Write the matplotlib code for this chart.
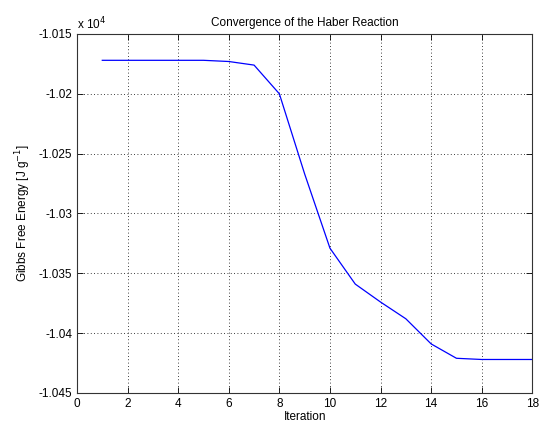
import matplotlib.pyplot as plt
from matplotlib.ticker import FuncFormatter

plt.rcParams['font.family'] = ['Liberation Sans', 'DejaVu Sans']

iteration = list(range(1, 19))
gibbs = [-10172, -10172, -10172, -10172, -10172, -10173, -10176, -10200, -10267,
         -10329, -10359, -10374, -10388, -10409, -10421, -10422, -10422, -10422]

fig = plt.figure(figsize=(5.41, 4.28), dpi=100)
ax = fig.add_axes([0.1423, 0.0818, 0.8417, 0.8388])

ax.plot(iteration, gibbs, color='#0000ff', linewidth=0.9)

ax.set_xlim(0, 18)
ax.set_ylim(-10450, -10150)
ax.set_xticks(range(0, 19, 2))
ax.set_yticks([-10450, -10400, -10350, -10300, -10250, -10200, -10150])
ax.yaxis.set_major_formatter(FuncFormatter(lambda v, p: ('%g' % (v / 1e4))))

ax.grid(True, color='black', linestyle=(0, (1, 3)), linewidth=0.6)
ax.tick_params(direction='in', top=True, right=True, labelsize=8.5, length=4, width=0.6)
for s in ax.spines.values():
    s.set_linewidth(0.8)
    s.set_color('#333333')

ax.set_title('Convergence of the Haber Reaction', fontsize=8.5, pad=6)
ax.set_xlabel('Iteration', fontsize=8.5, labelpad=1)
ax.set_ylabel('Gibbs Free Energy [J g$^{-1}$]', fontsize=8.5, labelpad=4)
ax.text(0.0, 1.005, 'x 10$^4$', transform=ax.transAxes, fontsize=8.5,
        ha='left', va='bottom')

fig.savefig('out.png', dpi=100)
